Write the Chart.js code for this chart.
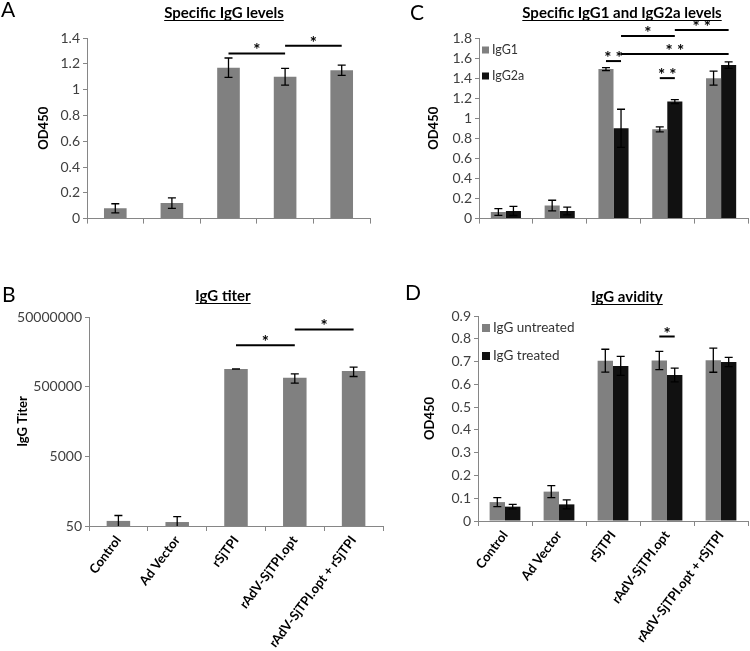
<!DOCTYPE html>
<html>
<head>
<meta charset="utf-8">
<script src="https://cdn.jsdelivr.net/npm/chart.js"></script>
<style>
body { margin: 0; background: #fff; }
#page { position: relative; width: 750px; height: 651px; overflow: hidden; background: #fff; }
.panel { position: absolute; }
</style>
</head>
<body>
<div id="page">
  <div class="panel" style="left:0;top:240px;width:385px;height:411px"><canvas id="chartB"></canvas></div>
  <div class="panel" style="left:375px;top:240px;width:375px;height:411px"><canvas id="chartD"></canvas></div>
  <div class="panel" style="left:0;top:0;width:375px;height:230px"><canvas id="chartA"></canvas></div>
  <div class="panel" style="left:375px;top:0;width:375px;height:230px"><canvas id="chartC"></canvas></div>
</div>
<script>
const groups = ['Control', 'Ad Vector', 'rSjTPI', 'rAdV-SjTPI.opt', 'rAdV-SjTPI.opt + rSjTPI']

// A - specific IgG
const igg = [0.08, 0.12, 1.17, 1.10, 1.15]
const iggErr = [0.035, 0.04, 0.075, 0.065, 0.04]

// B - IgG titer (log)
const titer = [70, 65, 1600000, 900000, 1400000]
const titerErr = [30, 28, 15000, 270000, 420000]
const titerTicks = [50, 5000, 500000, 50000000]

// C - IgG1 / IgG2a
const igg1 = [0.066, 0.13, 1.49, 0.89, 1.40]
const igg1Err = [0.033, 0.053, 0.015, 0.025, 0.07]
const igg2a = [0.076, 0.076, 0.90, 1.166, 1.53]
const igg2aErr = [0.045, 0.038, 0.19, 0.02, 0.033]

// D - avidity
const untreated = [0.083, 0.129, 0.704, 0.705, 0.706]
const untreatedErr = [0.02, 0.026, 0.05, 0.04, 0.053]
const treated = [0.063, 0.073, 0.681, 0.641, 0.698]
const treatedErr = [0.01, 0.02, 0.042, 0.03, 0.02]

// significance: [group1, dataset1, group2, dataset2, y value, text]
const sigA = [[2, 0, 3, 0, 1.28, '*'], [3, 0, 4, 0, 1.34, '*']]
const sigB = [[2, 0, 3, 0, 7700000, '*'], [3, 0, 4, 0, 22000000, '*']]
const sigC = [[2, 0, 2, 1, 1.57, '**'], [2, 1, 3, 1, 1.82, '*'], [3, 1, 4, 1, 1.88, '**'],
              [2, 1, 4, 1, 1.64, '**'], [3, 0, 3, 1, 1.40, '**']]
const sigD = [[3, 0, 3, 1, 0.81, '*']]

const GREY = '#808080'
const BLACK = '#111111'
const AXIS = '#868686'
const FONT = 'Lato'

const decor = {
  id: 'decor',
  afterDatasetsDraw(chart, args, o) {
    const ctx = chart.ctx
    const ys = chart.scales.y
    const area = chart.chartArea
    ctx.save()
    // error bars
    ctx.strokeStyle = '#000'
    ctx.lineWidth = 1.3
    chart.data.datasets.forEach((ds, d) => {
      chart.getDatasetMeta(d).data.forEach((bar, i) => {
        const v = ds.data[i], e = ds.err[i]
        const top = ys.getPixelForValue(v + e)
        const bot = Math.min(ys.getPixelForValue(Math.max(v - e, ys.min)), area.bottom)
        const x = bar.x
        ctx.beginPath()
        ctx.moveTo(x, top); ctx.lineTo(x, bot)
        ctx.moveTo(x - 4, top); ctx.lineTo(x + 4, top)
        if (bot < area.bottom - 0.5) { ctx.moveTo(x - 4, bot); ctx.lineTo(x + 4, bot) }
        ctx.stroke()
      })
    })
    // significance lines
    ctx.lineWidth = 2
    ctx.fillStyle = '#000'
    ctx.font = 'bold 17px ' + FONT
    ctx.textAlign = 'center'
    ctx.textBaseline = 'alphabetic';
    (o.sig || []).forEach(([g1, d1, g2, d2, val, txt]) => {
      const x1 = chart.getDatasetMeta(d1).data[g1].x
      const x2 = chart.getDatasetMeta(d2).data[g2].x
      const yy = ys.getPixelForValue(val)
      ctx.beginPath()
      ctx.moveTo(x1, yy); ctx.lineTo(x2, yy)
      ctx.stroke()
      ctx.fillText(txt.split('').join(' '), (x1 + x2) / 2, yy + 3)
    })
    ctx.restore()
  },
  afterDraw(chart, args, o) {
    const ctx = chart.ctx
    ctx.save()
    ctx.fillStyle = '#000'
    ctx.strokeStyle = '#000'
    // panel letter
    ctx.font = '21px ' + FONT
    ctx.textAlign = 'left'
    ctx.fillText(o.letter, o.letterX, o.letterY)
    // underlined title
    ctx.font = 'bold 15px ' + FONT
    ctx.textAlign = 'center'
    ctx.fillText(o.title, o.titleX, o.titleY)
    const w = ctx.measureText(o.title).width
    ctx.lineWidth = 1
    ctx.beginPath()
    ctx.moveTo(o.titleX - w / 2, o.titleY + 2.5)
    ctx.lineTo(o.titleX + w / 2, o.titleY + 2.5)
    ctx.stroke()
    // legend
    if (o.legend) {
      ctx.font = o.legend.font + 'px ' + FONT
      ctx.textAlign = 'left'
      ctx.textBaseline = 'middle'
      chart.data.datasets.forEach((ds, d) => {
        const ly = o.legend.y + d * o.legend.step
        ctx.fillStyle = ds.backgroundColor
        ctx.fillRect(o.legend.x, ly - o.legend.box / 2, o.legend.box, o.legend.box)
        ctx.fillStyle = '#333'
        ctx.fillText(ds.label, o.legend.x + o.legend.box + 3, ly)
      })
    }
    ctx.restore()
  }
}

const tickFont = { family: FONT, size: 14 }
const plainNum = (v) => String(Math.round(v * 100) / 100)

function yAxis(width, titleText, titlePad, extra) {
  return Object.assign({
    afterFit: (s) => { s.width = width },
    border: { color: AXIS },
    grid: { drawOnChartArea: false, color: AXIS, tickLength: 4 },
    title: { display: true, text: titleText, color: '#000', font: { family: FONT, size: 13, weight: 'bold' }, padding: { top: titlePad, bottom: 0 } }
  }, extra)
}

function xAxis(height, showLabels) {
  return {
    afterFit: (s) => { s.height = height },
    border: { color: AXIS },
    grid: { drawOnChartArea: false, color: AXIS, tickLength: 5, offset: true },
    ticks: {
      display: showLabels, autoSkip: false, minRotation: 53, maxRotation: 53, padding: 2,
      color: '#000', font: { family: FONT, size: 13, weight: 'bold' }
    }
  }
}

function makeChart(id, datasets, pct, yScale, xScale, padding, deco) {
  return new Chart(document.getElementById(id), {
    type: 'bar',
    data: { labels: groups, datasets: datasets },
    options: {
      responsive: true,
      maintainAspectRatio: false,
      animation: false,
      layout: { padding: padding },
      datasets: { bar: { categoryPercentage: pct, barPercentage: 1, borderWidth: 0 } },
      scales: { x: xScale, y: yScale },
      plugins: { legend: { display: false }, tooltip: { enabled: false }, decor: deco }
    },
    plugins: [decor]
  })
}

makeChart('chartA',
  [{ label: 'IgG', data: igg, err: iggErr, backgroundColor: GREY }],
  0.4,
  yAxis(87, 'OD450', 36, { min: 0, max: 1.4, ticks: { stepSize: 0.2, color: '#404040', font: tickFont, padding: 3, callback: plainNum } }),
  xAxis(10, false),
  { top: 38, right: 5, bottom: 0, left: 0 },
  { sig: sigA, letter: 'A', letterX: 1, letterY: 17, title: 'Specific IgG levels', titleX: 224, titleY: 18 })

makeChart('chartC',
  [{ label: 'IgG1', data: igg1, err: igg1Err, backgroundColor: GREY },
   { label: 'IgG2a', data: igg2a, err: igg2aErr, backgroundColor: BLACK }],
  0.56,
  yAxis(104, 'OD450', 51, { min: 0, max: 1.8, ticks: { stepSize: 0.2, color: '#404040', font: tickFont, padding: 3, callback: plainNum } }),
  xAxis(10, false),
  { top: 38, right: 2, bottom: 0, left: 0 },
  { sig: sigC, letter: 'C', letterX: 35, letterY: 20, title: 'Specific IgG1 and IgG2a levels', titleX: 247, titleY: 18,
    legend: { x: 107, y: 50, step: 26, box: 7, font: 12.5 } })

makeChart('chartB',
  [{ label: 'IgG Titer', data: titer, err: titerErr, backgroundColor: GREY }],
  0.4,
  yAxis(89, 'IgG Titer', 15, {
    type: 'logarithmic', min: 50, max: 50000000,
    afterBuildTicks: (s) => { s.ticks = titerTicks.map(v => ({ value: v })) },
    ticks: { color: '#404040', font: tickFont, padding: 3, callback: (v) => String(v) }
  }),
  xAxis(125, true),
  { top: 77, right: 2, bottom: 0, left: 0 },
  { sig: sigB, letter: 'B', letterX: 2, letterY: 62, title: 'IgG titer', titleX: 223, titleY: 61 })

makeChart('chartD',
  [{ label: 'IgG untreated', data: untreated, err: untreatedErr, backgroundColor: GREY },
   { label: 'IgG treated', data: treated, err: treatedErr, backgroundColor: BLACK }],
  0.57,
  yAxis(103, 'OD450', 47, { min: 0, max: 0.9, ticks: { stepSize: 0.1, color: '#404040', font: tickFont, padding: 3, callback: plainNum } }),
  xAxis(130, true),
  { top: 76, right: 2, bottom: 0, left: 0 },
  { sig: sigD, letter: 'D', letterX: 30, letterY: 60, title: 'IgG avidity', titleX: 252, titleY: 62,
    legend: { x: 107, y: 88, step: 28, box: 8, font: 13.5 } })
</script>
</body>
</html>
